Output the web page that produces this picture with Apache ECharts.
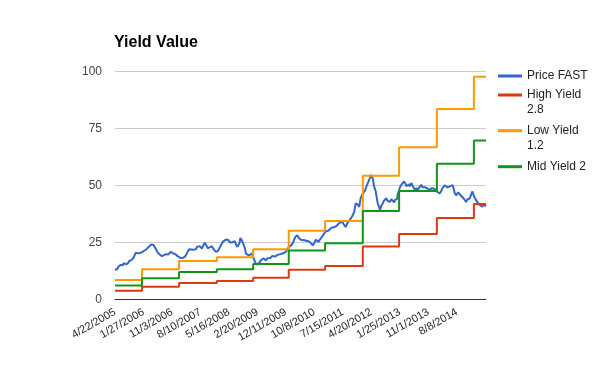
<!DOCTYPE html>
<html>
<head>
<meta charset="utf-8">
<script src="https://cdn.jsdelivr.net/npm/echarts@6/dist/echarts.min.js"></script>
<style>
html,body{margin:0;padding:0;background:#fff;}
#c{width:600px;height:371px;}
</style>
</head>
<body>
<div id="c"></div>
<script>
// x tick labels (every 40 weeks from 4/22/2005)
const tickLabels = ["4/22/2005","1/27/2006","11/3/2006","8/10/2007","5/16/2008","2/20/2009","12/11/2009","10/8/2010","7/15/2011","4/20/2012","1/25/2013","11/1/2013","8/8/2014"];
const lastWeek = 521;

// Price FAST: [week index, value]
const priceFast = [
[0,13.0],[2,13.6],[3,13.2],[5,14.4],[6,14.0],[8,15.1],[9,15.4],[11,14.9],[12,15.8],[14,15.0],[15,15.4],[17,16.1],[18,15.7],[20,16.8],[21,16.3],[23,17.2],[24,16.9],[26,18.2],[27,18.8],[29,20.4],[30,19.9],[32,20.2],[33,19.4],[35,20.3],[36,19.8],[38,20.7],[40,20.3],[42,21.5],[43,21.0],[45,22.2],[46,21.8],[48,23.2],[49,22.8],[51,24.0],[52,23.4],[54,23.8],[55,23.0],[56,23.3],[58,21.8],[59,21.3],[60,20.4],[61,20.0],[63,19.6],[64,19.1],[66,18.9],[67,18.5],[69,19.4],[70,19.0],[72,19.8],[73,19.4],[75,19.7],[76,19.2],[78,20.8],[79,20.4],[80,21.0],[82,20.1],[83,19.6],[85,19.8],[86,19.2],[88,18.9],[90,18.3],[92,18.1],[93,17.5],[94,17.3],[96,18.2],[97,18.8],[99,19.0],
[100,19.6],[102,20.8],[104,21.9],[105,22.5],[107,21.8],[109,22.2],[110,21.7],[112,22.3],[114,22.0],[115,23.0],[117,22.6],[119,23.3],[120,22.7],[122,22.3],[124,23.6],[126,24.8],[127,24.0],[129,23.3],[130,22.4],[131,21.9],[133,22.8],[134,22.4],[136,23.3],[138,22.2],[140,21.4],[141,21.0],[142,21.3],[144,21.0],[145,21.8],[147,22.6],[149,23.9],[151,24.6],[152,25.4],[154,25.8],[156,26.2],[158,26.8],[159,26.0],[160,25.6],[162,24.9],[163,24.4],[165,25.0],[167,24.8],[168,25.5],[170,24.0],[172,23.0],[173,22.3],[174,23.4],[175,24.8],[176,26.9],[177,26.5],[178,26.0],[180,25.3],[182,22.8],[183,21.5],[184,20.0],[186,19.5],[188,19.2],[190,19.8],[192,20.1],[194,18.6],[196,17.0],[197,16.0],[198,15.7],
[200,15.2],[201,14.9],[203,16.2],[205,17.2],[207,17.0],[209,17.9],[211,17.5],[212,17.0],[214,18.0],[216,18.7],[218,18.1],[219,18.4],[221,19.0],[223,19.4],[225,18.8],[227,19.1],[229,19.6],[230,19.2],[232,19.8],[235,20.1],[237,19.7],[240,20.8],[242,21.9],[244,22.9],[246,22.8],[248,23.8],[250,24.4],[251,25.6],[253,27.3],[255,27.8],[256,28.1],[258,27.0],[259,26.6],[261,26.1],[263,26.8],[266,25.9],[268,26.4],[270,25.6],[273,25.3],[275,24.6],[278,23.7],[280,24.8],[282,26.1],[284,25.5],[286,25.2],[288,26.3],[291,27.6],[293,28.2],[296,29.8],[298,30.5],
[300,30.2],[303,31.2],[305,30.8],[307,31.6],[310,31.9],[312,32.6],[315,33.4],[317,33.0],[319,34.1],[321,33.0],[322,32.4],[324,31.7],[326,33.2],[328,34.1],[330,33.8],[333,36.3],[335,37.0],[336,38.5],[337,40.2],[338,42.1],[340,42.9],[341,41.5],[343,40.5],[344,42.6],[345,44.4],[347,45.8],[349,46.4],[351,47.6],[353,49.5],[354,50.3],[356,51.6],[358,53.2],[360,54.6],[361,53.8],[362,52.9],[363,51.2],[364,49.3],[366,47.5],[367,45.6],[368,43.8],[369,42.0],[371,40.4],[372,39.1],[373,40.0],[374,41.1],[376,42.0],[377,42.9],[379,43.6],[381,44.4],[383,43.1],[384,43.9],[386,42.7],[388,43.9],[390,43.7],[392,42.5],[393,43.5],[395,42.8],[396,44.0],[397,45.8],[399,47.9],
[400,49.0],[402,50.2],[404,50.9],[406,51.7],[408,50.6],[409,49.6],[411,50.2],[413,50.4],[414,49.5],[416,51.0],[418,49.7],[420,48.6],[422,47.6],[423,48.8],[425,47.8],[427,48.9],[428,49.7],[430,50.2],[432,49.1],[434,48.4],[435,49.2],[437,49.5],[439,48.6],[440,48.2],[442,47.8],[444,48.7],[446,49.5],[448,48.6],[449,48.1],[451,47.5],[453,47.0],[456,46.4],[458,47.5],[460,48.8],[462,49.3],[463,50.0],[465,50.2],[467,49.1],[469,48.9],[470,49.5],[472,50.3],[474,50.1],[476,48.1],[477,46.6],[479,45.6],[481,46.2],[482,46.9],[484,46.5],[486,45.4],[488,45.0],[490,44.1],[491,43.6],[493,42.7],[495,43.9],[496,44.5],[498,44.2],
[500,45.8],[502,47.3],[503,46.2],[505,44.7],[507,43.5],[509,42.6],[510,43.0],[512,41.4],[514,40.8],[516,40.6],[518,41.6],[519,41.3],[521,40.8]
];

// Yield steps (week where level starts)
const stepWeeks = [0,38,90,143,194,244,295,348,399,452,504,521];
const highYield = [3.8,5.5,7.1,8.0,9.5,13.0,14.6,23.2,28.6,35.7,41.8,41.8];
const lowYield  = [8.5,13.2,16.8,18.4,21.9,30.1,34.3,54.2,66.7,83.5,97.6,97.6];
const midYield  = [6.0,9.2,12.0,13.2,15.5,21.4,24.6,38.7,47.5,59.5,69.7,69.7];

const seriesNames = ["Price FAST","High Yield 2.8","Low Yield 1.2","Mid Yield 2"];
const legendLabels = ["Price FAST","\nHigh Yield\n2.8","\nLow Yield\n1.2","Mid Yield 2"];
const colors = ["#3366cc","#dc3912","#ff9900","#109618"];

const zip = (xs, ys) => xs.map((x, i) => [x, ys[i]]);

const chart = echarts.init(document.getElementById('c'), null, {renderer: 'canvas'});
const font = 'Arial, "Liberation Sans", sans-serif';
const legendTops = [68.5, 72.5, 108.2, 159.2];

chart.setOption({
  animation: false,
  color: colors,
  textStyle: {fontFamily: font},
  title: {
    text: 'Yield Value', left: 114, top: 35, padding: 0,
    textStyle: {fontFamily: font, fontSize: 16, fontWeight: 'bold', color: '#000'}
  },
  legend: seriesNames.map((n, i) => ({
    data: [n], orient: 'vertical', left: 498, top: legendTops[i], padding: 0,
    icon: 'rect', itemWidth: 24, itemHeight: 3,
    formatter: () => legendLabels[i],
    textStyle: {fontFamily: font, fontSize: 12, color: '#222', lineHeight: 15}
  })),
  grid: {left: 115, right: 114, top: 71.3, bottom: 71.7, containLabel: false},
  xAxis: {
    type: 'value', min: 0, max: lastWeek, interval: 40,
    axisLine: {show: true, lineStyle: {color: '#333', width: 1}},
    axisTick: {show: false},
    splitLine: {show: false},
    axisLabel: {
      rotate: 30, margin: 12, fontSize: 11, color: '#222', fontFamily: font,
      showMaxLabel: false,
      formatter: v => (v % 40 === 0 && tickLabels[v / 40]) ? tickLabels[v / 40] : ''
    }
  },
  yAxis: {
    type: 'value', min: 0, max: 100, interval: 25,
    axisLine: {show: false}, axisTick: {show: false},
    splitLine: {lineStyle: {color: '#cccccc', width: 1}},
    axisLabel: {margin: 13, fontSize: 12, color: '#444', fontFamily: font}
  },
  series: [
    {name: seriesNames[0], type: 'line', data: priceFast, showSymbol: false, lineStyle: {width: 2}},
    {name: seriesNames[1], type: 'line', step: 'end', data: zip(stepWeeks, highYield), showSymbol: false, lineStyle: {width: 2}},
    {name: seriesNames[2], type: 'line', step: 'end', data: zip(stepWeeks, lowYield), showSymbol: false, lineStyle: {width: 2}},
    {name: seriesNames[3], type: 'line', step: 'end', data: zip(stepWeeks, midYield), showSymbol: false, lineStyle: {width: 2}}
  ]
});
</script>
</body>
</html>
